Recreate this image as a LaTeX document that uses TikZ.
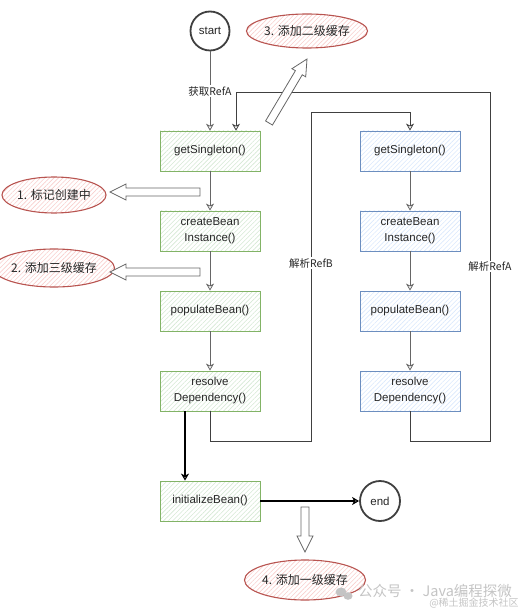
\documentclass[tikz,border=0pt]{standalone}
\usepackage{fontspec}
\setmainfont{Liberation Sans}
\newfontfamily\cjk{Noto Sans CJK SC}
\usetikzlibrary{arrows.meta,patterns.meta,calc,shapes.geometric}
\definecolor{gstroke}{HTML}{82B366}
\definecolor{gfill}{HTML}{D5E8D4}
\definecolor{bstroke}{HTML}{6C8EBF}
\definecolor{bfill}{HTML}{DAE8FC}
\definecolor{rstroke}{HTML}{B85450}
\definecolor{rfill}{HTML}{F8CECC}
\definecolor{wmark}{HTML}{C4C4C4}
\newcommand\flexarrow[2]{%
  \coordinate (fh) at ($(#2)!16pt!(#1)$);
  \draw[flexstyle] ($(#1)!4pt!90:(#2)$) -- ($(fh)!4pt!-90:(#1)$) -- ($(fh)!8pt!-90:(#1)$) -- (#2)
     -- ($(fh)!8pt!90:(#1)$) -- ($(fh)!4pt!90:(#1)$) -- ($(#1)!4pt!-90:(#2)$) -- cycle;}
\begin{document}
\begin{tikzpicture}[x=1pt,y=-1pt,
  base/.style={font=\fontsize{11.5}{16}\selectfont, text=black!85, align=center},
  hatch/.style={pattern={Lines[angle=45,distance=3.2pt,line width=0.6pt]}},
  boxbase/.style={base, rectangle, line width=0.8pt, minimum width=100pt, minimum height=40pt, inner sep=1pt, hatch},
  gbox/.style={boxbase, draw=gstroke, pattern color=gfill},
  bbox/.style={boxbase, draw=bstroke, pattern color=bfill},
  redell/.style={base, font=\cjk\fontsize{12}{14}\selectfont, ellipse, draw=rstroke, line width=1.1pt, inner sep=0pt, hatch, pattern color=rfill},
  term/.style={base, circle, draw=black!75, line width=1.8pt, fill=white, inner sep=0pt},
  tip/.style={-{Stealth[open,length=7pt,width=8pt,inset=2pt]}},
  conn/.style={draw=black!60, line width=0.8pt, tip},
  loopline/.style={draw=black!75, line width=0.8pt, tip},
  boldconn/.style={draw=black, line width=1.2pt, tip},
  lbl/.style={font=\cjk\fontsize{10.5}{13}\selectfont, fill=white, inner sep=1pt, text=black!85},
  flexstyle/.style={draw=black!60, line width=0.8pt, fill=white, line join=miter}
]
\useasboundingbox (0,0) rectangle (528,612);

% terminals
\node[term, minimum size=39pt] (start) at (210,31) {start};
\node[term, minimum size=40pt] (end) at (380,501) {end};

% left column
\node[gbox] (gs1) at (210,151) {getSingleton()};
\node[gbox] (cb1) at (210,231) {createBean\\Instance()};
\node[gbox] (pb1) at (210,311) {populateBean()};
\node[gbox] (rd1) at (210,391) {resolve\\Dependency()};
\node[gbox] (in1) at (210,501) {initializeBean()};

% right column
\node[bbox] (gs2) at (410,151) {getSingleton()};
\node[bbox] (cb2) at (410,231) {createBean\\Instance()};
\node[bbox] (pb2) at (410,311) {populateBean()};
\node[bbox] (rd2) at (410,391) {resolve\\Dependency()};

% notes
\node[redell, minimum width=90pt, minimum height=34pt] (e3) at (307,31) {3. 添加二级缓存};
\node[redell, minimum width=92pt, minimum height=36pt] (e1) at (54,195) {1. 标记创建中};
\node[redell, minimum width=92pt, minimum height=38pt] (e2) at (54,268) {2. 添加三级缓存};
\node[redell, minimum width=90pt, minimum height=40pt] (e4) at (305,580) {4. 添加一级缓存};

% main flow
\draw[conn] (start) -- node[lbl] {获取RefA} (gs1);
\draw[conn] (gs1) -- (cb1);
\draw[conn] (cb1) -- (pb1);
\draw[conn] (pb1) -- (rd1);
\draw[conn] (gs2) -- (cb2);
\draw[conn] (cb2) -- (pb2);
\draw[conn] (pb2) -- (rd2);
\draw[boldconn] ([xshift=-25pt]rd1.south) -- ([xshift=-25pt]in1.north);
\draw[boldconn] (in1) -- (end);

% loops
\coordinate (rb1) at (311,441);
\coordinate (rb2) at (311,112);
\draw[loopline] (rd1.south) |- (rb1) -- node[lbl, pos=0.54] {解析RefB} (rb2) -| (gs2.north);
\coordinate (ra1) at (490,441);
\coordinate (ra2) at (490,92);
\draw[loopline] (rd2.south) |- (ra1) -- node[lbl, pos=0.5] {解析RefA} (ra2) -| ([xshift=26pt]gs1.north);

% hollow arrows
\coordinate (f1t) at (200,192); \coordinate (f1h) at (110,192);
\coordinate (f2t) at (200,272); \coordinate (f2h) at (110,272);
\coordinate (f3t) at (269,123); \coordinate (f3h) at (307,59);
\coordinate (f4t) at (305,507); \coordinate (f4h) at (305,552);
\flexarrow{f1t}{f1h}
\flexarrow{f2t}{f2h}
\flexarrow{f3t}{f3h}
\flexarrow{f4t}{f4h}

% watermark
\fill[wmark] (341,592) ellipse (5.5pt and 4.5pt);
\fill[wmark] (348,596) ellipse (4.5pt and 3.8pt);
\node[font=\cjk\fontsize{14.5}{16}\selectfont, text=wmark, inner sep=0pt] (wm1) at (435,591) {公众号 · Java编程探微};
\node[font=\cjk\fontsize{10}{12}\selectfont, text=wmark, inner sep=0pt] (wm2) at (474,603) {@稀土掘金技术社区};
\end{tikzpicture}
\end{document}
